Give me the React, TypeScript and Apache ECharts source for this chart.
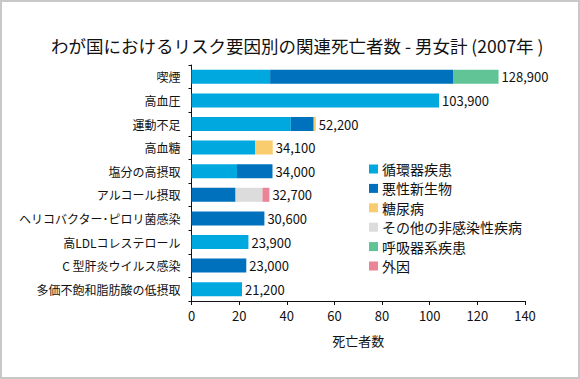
import React, { useEffect, useRef } from "react";
import * as echarts from "echarts";

const categories = [
  "喫煙",
  "高血圧",
  "運動不足",
  "高血糖",
  "塩分の高摂取",
  "アルコール摂取",
  "ヘリコバクター･ピロリ菌感染",
  "高LDLコレステロール",
  "C 型肝炎ウイルス感染",
  "多価不飽和脂肪酸の低摂取",
];

// thousands of deaths
const circulatory = [33.0, 103.9, 41.7, 26.8, 19.1, 0, 0, 23.9, 0, 21.2];
const neoplasm = [77.0, 0, 9.6, 0, 14.9, 18.5, 30.6, 0, 23.0, 0];
const diabetes = [0, 0, 0.9, 7.3, 0, 0, 0, 0, 0, 0];
const otherNcd = [0, 0, 0, 0, 0, 11.3, 0, 0, 0, 0];
const respiratory = [18.9, 0, 0, 0, 0, 0, 0, 0, 0, 0];
const external = [0, 0, 0, 0, 0, 2.9, 0, 0, 0, 0];
const totals = [128.9, 103.9, 52.2, 34.1, 34.0, 32.7, 30.6, 23.9, 23.0, 21.2];

const xTicks = [0, 20, 40, 60, 80, 100, 120, 140];

const seriesNames = ["循環器疾患", "悪性新生物", "糖尿病", "その他の非感染性疾病", "呼吸器系疾患", "外因"];
const seriesColors = ["#00a8e0", "#0071bc", "#f9cc6e", "#dcdcdc", "#60c496", "#ea8497"];
const seriesData = [circulatory, neoplasm, diabetes, otherNcd, respiratory, external];

const FONT = "'Noto Sans CJK JP', 'Noto Sans', sans-serif";

export default function App() {
  const ref = useRef<HTMLDivElement>(null);
  useEffect(() => {
    if (!ref.current) return;
    const chart = echarts.init(ref.current, undefined, { renderer: "svg" });
    const stacked = seriesNames.map((name, i) => ({
      name,
      type: "bar",
      stack: "total",
      barWidth: 14,
      itemStyle: { color: seriesColors[i] },
      data: seriesData[i],
      z: 3,
    }));
    chart.setOption({
      animation: false,
      textStyle: { fontFamily: FONT },
      title: {
        text: "わが国におけるリスク要因別の関連死亡者数 - 男女計 (2007年 )",
        left: 46,
        top: 32,
        textStyle: { fontSize: 17.5, fontWeight: "normal", color: "#111", fontFamily: FONT },
      },
      graphic: [
        {
          type: "rect",
          shape: { x: 1, y: 1, width: 578, height: 377 },
          style: { fill: "none", stroke: "#c8c8c8", lineWidth: 2 },
          silent: true,
        },
      ],
      legend: {
        data: seriesNames,
        orient: "vertical",
        left: 369,
        top: 162,
        itemWidth: 9,
        itemHeight: 9,
        itemGap: 5.4,
        icon: "rect",
        padding: 0,
        textStyle: {
          fontSize: 14,
          lineHeight: 14,
          color: "#111",
          fontFamily: FONT,
          padding: [0, 0, 0, -1],
        },
      },
      grid: { left: 191.5, right: 55, top: 65, bottom: 78, containLabel: false },
      xAxis: {
        type: "value",
        min: 0,
        max: 140,
        interval: 20,
        name: "死亡者数",
        nameLocation: "middle",
        nameGap: 33,
        nameTextStyle: { fontSize: 13, color: "#111", fontFamily: FONT },
        axisLine: { show: true, lineStyle: { color: "#111" } },
        axisTick: { show: true, length: 4, lineStyle: { color: "#111" } },
        axisLabel: {
          fontSize: 13,
          color: "#111",
          margin: 8,
          formatter: (v: number) => (xTicks.includes(v) ? String(v) : ""),
        },
        splitLine: { show: false },
      },
      yAxis: {
        type: "category",
        data: categories,
        inverse: true,
        axisLine: { show: true, lineStyle: { color: "#111" } },
        axisTick: { show: true, length: 3, lineStyle: { color: "#111" } },
        axisLabel: { fontSize: 12, color: "#111", margin: 11 },
      },
      series: [
        ...stacked,
        {
          name: "合計",
          type: "bar",
          barWidth: 14,
          barGap: "-100%",
          itemStyle: { color: "rgba(0,0,0,0)" },
          data: totals,
          z: 1,
          label: {
            show: true,
            position: "right",
            distance: 3,
            fontSize: 13,
            color: "#111",
            fontFamily: FONT,
            formatter: (p: any) => Math.round(p.value * 1000).toLocaleString("en-US"),
          },
        },
      ],
    });
    return () => chart.dispose();
  }, []);
  return (
    <div
      ref={ref}
      style={{ position: "fixed", left: 0, top: 0, width: 580, height: 379, background: "#fff" }}
    />
  );
}
